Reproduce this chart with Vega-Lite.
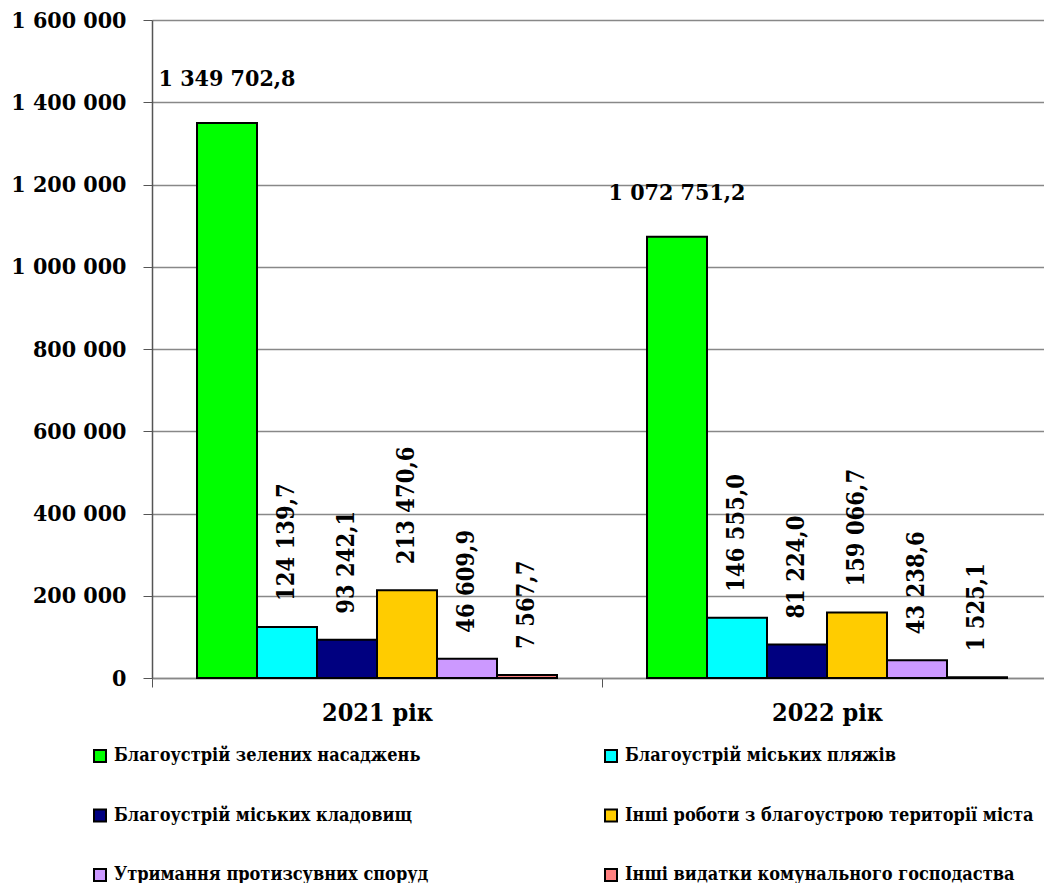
{
  "$schema": "https://vega.github.io/schema/vega-lite/v6.json",
  "width": 900,
  "height": 658,
  "autosize": "none",
  "padding": {"left": 152, "top": 20, "right": 0, "bottom": 205},
  "config": {
    "locale": {"number": {"decimal": ",", "thousands": " ", "grouping": [3], "currency": ["", ""]}},
    "font": "DejaVu Serif Condensed",
    "view": {"stroke": null}
  },
  "data": {
    "values": [
      {"year": "2021 рік", "category": "Благоустрій зелених насаджень", "value": 1349702.8},
      {"year": "2021 рік", "category": "Благоустрій міських пляжів", "value": 124139.7},
      {"year": "2021 рік", "category": "Благоустрій міських кладовищ", "value": 93242.1},
      {"year": "2021 рік", "category": "Інші роботи з благоустрою території міста", "value": 213470.6},
      {"year": "2021 рік", "category": "Утримання протизсувних споруд", "value": 46609.9},
      {"year": "2021 рік", "category": "Інші видатки комунального господаства", "value": 7567.7},
      {"year": "2022 рік", "category": "Благоустрій зелених насаджень", "value": 1072751.2},
      {"year": "2022 рік", "category": "Благоустрій міських пляжів", "value": 146555.0},
      {"year": "2022 рік", "category": "Благоустрій міських кладовищ", "value": 81224.0},
      {"year": "2022 рік", "category": "Інші роботи з благоустрою території міста", "value": 159066.7},
      {"year": "2022 рік", "category": "Утримання протизсувних споруд", "value": 43238.6},
      {"year": "2022 рік", "category": "Інші видатки комунального господаства", "value": 1525.1}
    ]
  },
  "encoding": {
    "x": {
      "field": "year", "type": "nominal", "sort": null,
      "scale": {"paddingInner": 0, "paddingOuter": 0},
      "axis": {
        "title": null, "labelAngle": 0, "tickBand": "extent", "tickSize": 9,
        "tickColor": "#555555", "domainColor": "#888888", "domainWidth": 1.5,
        "labelFont": "DejaVu Serif Condensed", "labelFontSize": 25, "labelFontWeight": "bold",
        "labelColor": "black", "labelPadding": 13, "grid": false
      }
    },
    "xOffset": {
      "field": "category", "type": "nominal",
      "sort": ["Благоустрій зелених насаджень", "Благоустрій міських пляжів", "Благоустрій міських кладовищ", "Інші роботи з благоустрою території міста", "Утримання протизсувних споруд", "Інші видатки комунального господаства"],
      "scale": {"paddingInner": 0, "paddingOuter": 0.75}
    },
    "y": {
      "field": "value", "type": "quantitative",
      "scale": {"domain": [0, 1600000], "nice": false},
      "axis": {
        "title": null, "values": [0, 200000, 400000, 600000, 800000, 1000000, 1200000, 1400000, 1600000],
        "format": ",d", "grid": true, "gridColor": "#888888", "gridWidth": 1.5,
        "tickSize": 9, "tickColor": "#555555", "domainColor": "#555555", "domainWidth": 1.5,
        "labelFont": "DejaVu Serif Condensed", "labelFontSize": 23, "labelFontWeight": "bold",
        "labelColor": "black", "labelPadding": 17
      }
    }
  },
  "layer": [
    {
      "mark": {"type": "bar", "stroke": "black", "strokeWidth": 2},
      "encoding": {
        "color": {
          "field": "category", "type": "nominal",
          "sort": ["Благоустрій зелених насаджень", "Благоустрій міських пляжів", "Благоустрій міських кладовищ", "Інші роботи з благоустрою території міста", "Утримання протизсувних споруд", "Інші видатки комунального господаства"],
          "scale": {"range": ["#00FF00", "#00FFFF", "#000080", "#FFCC00", "#CC99FF", "#FF8080"]},
          "legend": {
            "orient": "none", "legendX": -61, "legendY": 727, "columns": 2, "direction": "horizontal", "title": null,
            "symbolType": "square", "symbolSize": 144, "symbolStrokeColor": "black", "symbolStrokeWidth": 2,
            "labelFont": "DejaVu Serif Condensed", "labelFontSize": 18, "labelFontWeight": "bold", "labelColor": "black",
            "labelLimit": 700, "labelOffset": 5, "rowPadding": 39.5, "columnPadding": 172, "padding": 0
          }
        }
      }
    },
    {
      "transform": [{"filter": "datum.category == 'Благоустрій зелених насаджень'"}],
      "mark": {"type": "text", "align": "center", "baseline": "bottom", "dy": -32, "font": "DejaVu Serif Condensed", "fontSize": 23, "fontWeight": "bold", "color": "black"},
      "encoding": {"text": {"field": "value", "type": "quantitative", "format": ",.1f"}}
    },
    {
      "transform": [{"filter": "datum.category != 'Благоустрій зелених насаджень'"}],
      "mark": {"type": "text", "angle": 270, "align": "left", "baseline": "middle", "dx": 26, "font": "DejaVu Serif Condensed", "fontSize": 23.5, "fontWeight": "bold", "color": "black"},
      "encoding": {"text": {"field": "value", "type": "quantitative", "format": ",.1f"}}
    }
  ]
}
